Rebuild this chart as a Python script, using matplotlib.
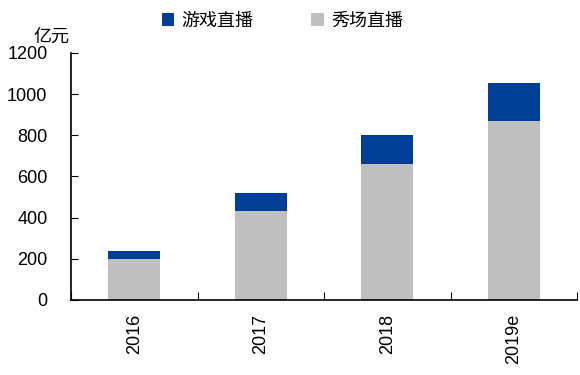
import numpy as np
import matplotlib.pyplot as plt

plt.rcParams['font.family'] = ['Liberation Sans', 'Noto Sans CJK SC', 'DejaVu Sans']

years = ['2016', '2017', '2018', '2019e']
show_live = [200, 430, 660, 870]   # 秀场直播
game_live = [40, 90, 140, 185]     # 游戏直播

blue = '#003f98'
gray = '#bfbfbf'

fig = plt.figure(figsize=(5.8, 3.75), dpi=100)
ax = fig.add_axes([0.1224, 0.2, 0.8726, 0.6587])

x = np.arange(len(years))
ax.bar(x, show_live, width=0.41, color=gray, label='秀场直播')
ax.bar(x, game_live, width=0.41, bottom=show_live, color=blue, label='游戏直播')

ax.set_xlim(-0.5, len(years) - 0.5)
ax.set_ylim(0, 1200)
ax.set_yticks(range(0, 1201, 200))
ax.tick_params(axis='y', direction='in', length=5, labelsize=13, pad=17)

# category boundary ticks, labels on minor ticks at bar centres
ax.set_xticks(np.arange(-0.5, len(years), 1.0))
ax.set_xticklabels([])
ax.set_xticks(x, minor=True)
ax.set_xticklabels(years, minor=True, rotation=90, fontsize=13)
ax.tick_params(axis='x', which='major', direction='in', length=6)
ax.tick_params(axis='x', which='minor', length=0, pad=10)

for s in ['top', 'right']:
    ax.spines[s].set_visible(False)
for s in ['left', 'bottom']:
    ax.spines[s].set_linewidth(1.2)

fig.text(0.057, 0.89, '亿元', fontsize=13, family=['Noto Sans CJK SC'])

handles, labels = ax.get_legend_handles_labels()
fig.legend(handles[::-1], labels[::-1], loc='center', bbox_to_anchor=(0.487, 0.945),
           ncol=2, frameon=False, handlelength=0.7, handleheight=0.7,
           columnspacing=3.2, handletextpad=0.4, prop={'family': 'Noto Sans CJK SC', 'size': 13})

fig.savefig('out.png', dpi=100)
